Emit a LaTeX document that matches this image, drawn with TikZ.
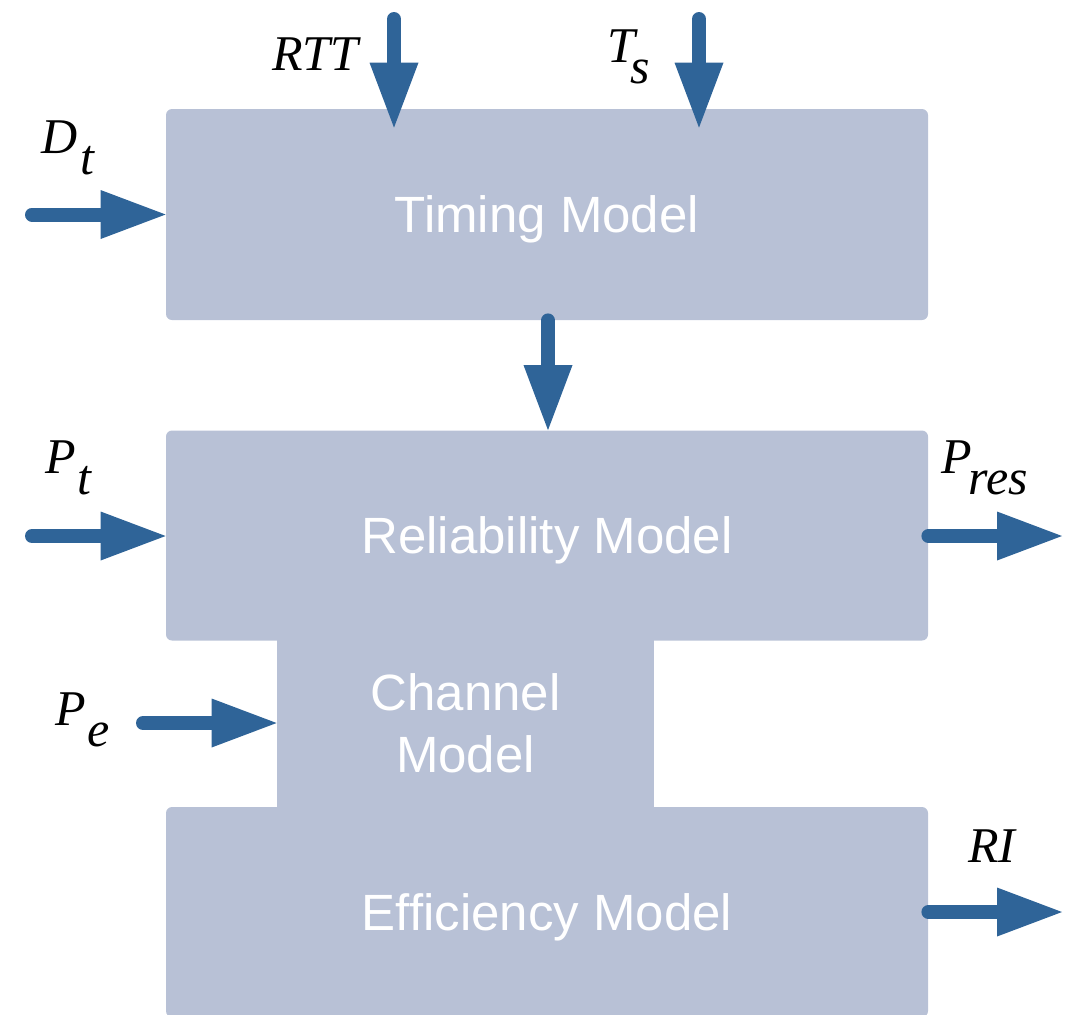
\documentclass[tikz,border=0pt]{standalone}
\usepackage{fontspec}
\setmainfont{Liberation Sans}
\newfontfamily\tms{Liberation Serif}
\usetikzlibrary{arrows.meta}
\definecolor{boxc}{RGB}{184,193,214}
\definecolor{arrc}{RGB}{47,100,152}
\newcommand{\sbs}[2]{\kern#1em\raisebox{-0.42em}{#2}}
\begin{document}
\begin{tikzpicture}[x=0.5pt,y=-0.5pt,
  blockbox/.style={fill=boxc, draw=none, rounded corners=3pt, inner sep=0pt,
    text=white, font=\fontsize{25.5}{31}\selectfont, align=center},
  onerow/.style={text height=18.3pt, text depth=0pt},
  conn/.style={draw=arrc, line width=7pt, line cap=round,
    -{Triangle[length=32.5pt,width=24.5pt,line width=0pt]}},
  lbl/.style={inner sep=0pt, anchor=base west, font=\tms\itshape\fontsize{25}{30}\selectfont}]
\useasboundingbox (0,0) rectangle (1077,1014);
% blocks
\node[blockbox, rounded corners=0pt, minimum width=188.5pt, minimum height=93.5pt] (channel) at (465.5,723.5) {Channel\\Model};
\node[blockbox, onerow, minimum width=381pt, minimum height=105.5pt] (timing) at (547,214.5) {Timing Model};
\node[blockbox, onerow, minimum width=381pt, minimum height=105pt] (reliab) at (547,535.5) {Reliability Model};
\node[blockbox, onerow, minimum width=381pt, minimum height=105pt] (eff) at (547,912) {Efficiency Model};
% free ends
\coordinate (rttS) at (394,19);
\coordinate (tsS) at (699,19);
\coordinate (dtS) at (32,214.5);
\coordinate (ptS) at (32,536);
\coordinate (peS) at (143,723);
\coordinate (presE) at (1062,536);
\coordinate (riE) at (1062,912);
% connectors
\draw[conn] (rttS) -- ([yshift=-9.5pt]rttS |- timing.north);
\draw[conn] (tsS) -- ([yshift=-9.5pt]tsS |- timing.north);
\draw[conn] (dtS) -- (dtS -| timing.west);
\draw[conn] ([xshift=0.5pt]timing.south) -- ([xshift=0.5pt]reliab.north);
\draw[conn] (ptS) -- (ptS -| reliab.west);
\draw[conn] (peS) -- (peS -| channel.west);
\draw[conn] (presE -| reliab.east) -- (presE);
\draw[conn] (riE -| eff.east) -- (riE);
% labels
\node[lbl] (lrtt) at (272,70) {RTT};
\node[lbl] (lts) at (607,62) {T\sbs{-0.1}{s}};
\node[lbl] (ldt) at (41,153) {D\sbs{0.05}{t}};
\node[lbl] (lpt) at (45,473) {P\sbs{0.04}{t}};
\node[lbl] (lpres) at (941,473) {P\sbs{-0.06}{res}};
\node[lbl] (lpe) at (55,725) {P\sbs{0.04}{e}};
\node[lbl] (lri) at (968,862) {RI};
\end{tikzpicture}
\end{document}
